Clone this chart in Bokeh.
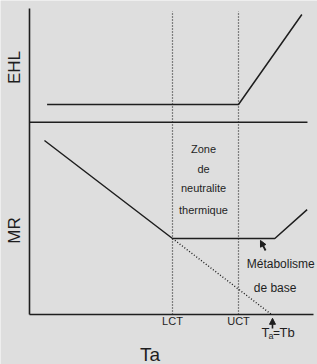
from math import pi
from bokeh.plotting import figure
from bokeh.models import Range1d, LinearAxis, FixedTicker, Arrow, NormalHead
from bokeh.core.properties import value
from bokeh.embed import file_html
from bokeh.resources import INLINE

# ---- data (temperature Ta on x; metabolic rate MR and evaporative heat loss EHL on y)
LCT = 22
UCT = 32
TB = 37
tick_values = [LCT, UCT]
tick_labels = ["LCT", "UCT"]

ehl_x = [3.0, 32.0, 41.6]
ehl_y = [2.0, 2.0, 12.0]

mr_x = [2.6, 22.0, 37.5, 42.4]
mr_y = [22.9, 10.0, 10.0, 13.8]

mr_ext_x = [22.0, 37.0]
mr_ext_y = [10.0, 0.0]

x_origin = 0.33             # Ta at the left axis
x_end = 43.36               # Ta at the end of the bottom axis
mr_top = 40.26              # top of the left axis (MR units)
panel_split = 25.3          # boundary between the EHL and MR panels (MR units)
panel_split_end = 42.45
guide_top = 39.9

zone_lines = ["Zone", "de", "neutralite", "thermique"]
zone_y = [21.84, 19.2, 16.7, 13.7]

BG = "#dedede"
INK = "#1e1e1e"
FONT = "Liberation Sans"

p = figure(width=317, height=364,
           x_range=Range1d(-4.06, 43.97), y_range=Range1d(-6.58, 41.32),
           output_backend="svg", toolbar_location=None,
           x_axis_type=None, y_axis_type=None, min_border=0,
           background_fill_color=BG, border_fill_color=BG, outline_line_color=None)
p.extra_y_ranges = {"ehl": Range1d(-26.89, 13.56)}

left = LinearAxis(fixed_location=x_origin, bounds=(0, mr_top),
                  ticker=FixedTicker(ticks=[]), axis_line_color=INK, axis_line_width=1.6,
                  major_tick_line_color=None, minor_tick_line_color=None,
                  major_label_text_font_size="0px")
p.add_layout(left, "left")

bottom = LinearAxis(fixed_location=0, bounds=(x_origin, x_end),
                    ticker=FixedTicker(ticks=tick_values),
                    major_label_overrides={v: t for v, t in zip(tick_values, tick_labels)},
                    axis_line_color=INK, axis_line_width=1.6,
                    major_tick_line_color=None, minor_tick_line_color=None,
                    major_label_standoff=-5, major_label_text_font=FONT,
                    major_label_text_font_size="11px", major_label_text_color=INK)
p.add_layout(bottom, "below")

# panel boundary
p.line([x_origin, panel_split_end], [panel_split, panel_split], line_color=INK, line_width=1.6)

# LCT / UCT guides
p.segment(x0=tick_values, y0=[0, 0], x1=tick_values, y1=[guide_top, guide_top],
          line_color=INK, line_width=1.2, line_dash="1 2")

# EHL curve
p.line(ehl_x, ehl_y, y_range_name="ehl", line_color=INK, line_width=1.5)

# MR curve and extrapolation
p.line(mr_x, mr_y, line_color=INK, line_width=1.5)
p.line(mr_ext_x, mr_ext_y, line_color=INK, line_width=1.4, line_dash="1 2")

txt = dict(text_font=value(FONT), text_color=INK)

# zone text
p.text(x=[26.7] * 4, y=zone_y, text=zone_lines, text_font_size="11px",
       text_align="center", text_baseline="middle", **txt)

# basal metabolism text
p.text(x=[38.4, 37.8], y=[6.58, 3.55], text=["Métabolisme", "de  base"], text_font_size="12px",
       text_align="center", text_baseline="middle", **txt)

# panel titles
p.text(x=[-1.94, -1.94], y=[32.5, 11.05], text=["EHL", "MR"], angle=pi / 2,
       text_font_size="17px", text_align="center", text_baseline="middle", **txt)

# x title
p.text(x=[18.59], y=[-5.26], text=["Ta"], text_font_size="19px",
       text_align="center", text_baseline="middle", **txt)

# Ta = Tb label
p.text(x=[TB, TB, TB, TB], y=[-2.37, -2.77, -2.37, -2.37], text=["T", "a", "=", "Tb"],
       x_offset=[-10, -3, 1.5, 8], text_font_size=["13px", "9px", "12px", "13px"],
       text_align="left", text_baseline="middle", **txt)

# arrows
p.add_layout(Arrow(end=NormalHead(size=6, fill_color=INK, line_color=INK),
                   x_start=TB + 0.15, y_start=-1.85, x_end=TB + 0.15, y_end=-0.5,
                   line_color=INK, line_width=1.6))
p.add_layout(Arrow(end=NormalHead(size=6, fill_color=INK, line_color=INK),
                   x_start=36.1, y_start=8.42, x_end=35.33, y_end=9.74,
                   line_color=INK, line_width=1.8))

open("out.html", "w").write(file_html(p, INLINE))
